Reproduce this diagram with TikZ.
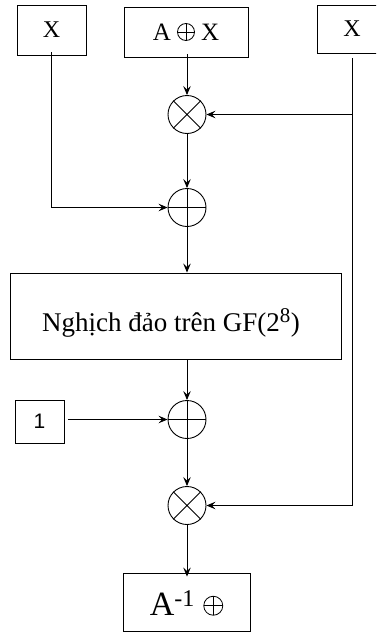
\documentclass[tikz,border=0pt]{standalone}
\usepackage{fontspec}
\setmainfont{Liberation Serif}
\newfontfamily\digitfont{Liberation Sans}
\usetikzlibrary{arrows.meta}
\newcommand{\myoplus}[1]{\tikz[baseline=0pt,x=1pt,y=1pt,line width=0.8pt]{\draw (0,#1/2) circle[radius=#1/2]; \draw (-#1/2,#1/2)--(#1/2,#1/2) (0,0)--(0,#1);}}
\begin{document}
\begin{tikzpicture}[x=1pt,y=-1pt,line width=0.9pt,
  box/.style={draw,line width=0.9pt,inner sep=0pt,anchor=center},
  op/.style={draw,circle,minimum size=38pt,inner sep=0pt,line width=0.9pt},
  arr/.style={-{Stealth[length=9pt,width=7.5pt,inset=3.5pt]}},
  lbl/.style={font=\fontsize{24}{24}\selectfont}]
\useasboundingbox (0,0) rectangle (376,632);
\begin{scope}
\clip (0,0) rectangle (376,632);
\node[box,minimum width=69pt,minimum height=50pt,lbl] (xl) at (51.5,30) {X};
\node[box,minimum width=124pt,minimum height=50pt,font=\fontsize{25}{25}\selectfont] (ax) at (186,32) {A \myoplus{17} X};
\node[box,minimum width=70pt,minimum height=48pt,lbl] (xr) at (352,29) {X};
\end{scope}
\node[op] (m1) at (187,114.5) {};
\draw (m1.45) -- (m1.225) (m1.135) -- (m1.315);
\node[op] (p1) at (187,207.5) {};
\draw (p1.north) -- (p1.south) (p1.west) -- (p1.east);
\node[box,minimum width=331pt,minimum height=86pt] (inv) at (175.5,316) {};
\node[font=\fontsize{27}{27}\selectfont] (invt) at (171,323) {Nghịch đảo trên GF(2$^{\mbox{\fontsize{21}{21}\selectfont 8}}$)};
\node[box,minimum width=49pt,minimum height=43pt,font=\digitfont\fontsize{21}{21}\selectfont] (one) at (39.5,421.5) {1};
\node[op] (p2) at (187,419.5) {};
\draw (p2.north) -- (p2.south) (p2.west) -- (p2.east);
\node[op] (m2) at (187,505.5) {};
\draw (m2.45) -- (m2.225) (m2.135) -- (m2.315);
\node[box,minimum width=127pt,minimum height=58pt] (out) at (186.5,602) {};
\node[font=\fontsize{34}{34}\selectfont] (outt) at (186.5,603) {A$^{\mbox{\fontsize{24}{24}\selectfont -1}}$ \myoplus{19}};
% connectors
\coordinate (xlb) at ([yshift=3pt]xl.south);
\coordinate (axb) at (m1.north |- ax.south);
\coordinate (xrb) at (352,58);
\draw[arr] ([yshift=3pt]axb) -- (m1.north);
\draw[arr] (xrb) |- (m1.east);
\draw[arr] (xlb) |- (p1.west);
\draw[arr] (m1.south) -- (p1.north);
\draw[arr] (p1.south) -- (p1.south |- inv.north);
\draw[arr] (p2.north |- inv.south) -- (p2.north);
\draw[arr] ([xshift=4pt]one.east |- p2.west) -- (p2.west);
\draw[arr] (p2.south) -- (m2.north);
\draw[arr] (xrb) |- (m2.east);
\draw[arr] (m2.south) -- ([yshift=-4pt]m2.south |- out.north);
\end{tikzpicture}
\end{document}
